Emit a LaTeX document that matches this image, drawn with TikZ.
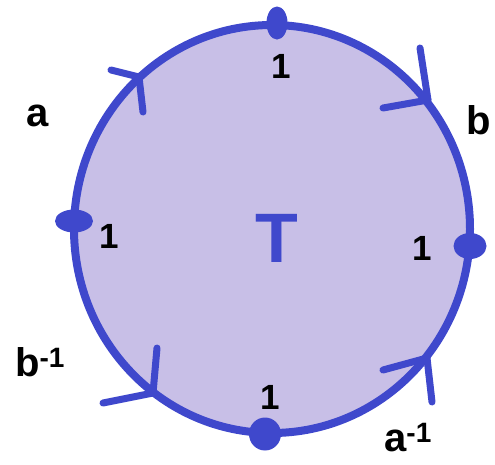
\documentclass[tikz,border=0pt]{standalone}
\usepackage{fontspec}
\setmainfont{Liberation Sans}
\usetikzlibrary{shapes.geometric}
\definecolor{edgeblue}{RGB}{63,72,204}
\definecolor{facelav}{RGB}{200,191,231}
\tikzset{
	lbl/.style={font=\bfseries\fontsize{35}{35}\selectfont, inner sep=0pt},
	side/.style={font=\bfseries\fontsize{40}{40}\selectfont, inner sep=0pt},
	vtx/.style={ellipse, fill=edgeblue, inner sep=0pt},
	barb/.style={edgeblue, line width=7pt, line cap=round}
}

\begin{document}
\begin{tikzpicture}[x=1pt,y=-1pt]
	\useasboundingbox (0,0) rectangle (495,464);
	\draw[edgeblue, fill=facelav, line width=8pt] (272,229) ellipse [x radius=198, y radius=204];
	\node[vtx, minimum width=21pt, minimum height=33pt] (vtop) at (277,23) {};
	\node[vtx, minimum width=38pt, minimum height=23pt] (vleft) at (74,221) {};
	\node[vtx, minimum width=33pt, minimum height=26pt] (vright) at (470,246) {};
	\node[vtx, minimum width=32pt, minimum height=33pt] (vbot) at (265,434) {};
	\node[lbl] (otop) at (281,66) {1};
	\node[lbl] (oleft) at (109,236) {1};
	\node[lbl] (oright) at (422,248) {1};
	\node[lbl] (obot) at (270,397) {1};
	\node[font=\bfseries\fontsize{70}{70}\selectfont, text=edgeblue, inner sep=0pt] (T) at (277,238) {T};
	\node[side] (la) at (38,116) {a};
	\node[side] (lb) at (479,120) {b};
	\node[side] (lbi) at (40,362) {b\textsuperscript{-1}};
	\node[side] (lai) at (408,438) {a\textsuperscript{-1}};
	\coordinate (ta) at (139,77);
	\coordinate (tb) at (428,100);
	\coordinate (tbi) at (153,393);
	\coordinate (tai) at (427,358);
	\draw[barb] (ta) -- (111,70);
	\draw[barb] (ta) -- (143,112);
	\draw[barb] (tb) -- (420,48);
	\draw[barb] (tb) -- (383,108);
	\draw[barb] (tbi) -- (157,348);
	\draw[barb] (tbi) -- (103,403);
	\draw[barb] (tai) -- (383,370);
	\draw[barb] (tai) -- (432,402);
\end{tikzpicture}
\end{document}
